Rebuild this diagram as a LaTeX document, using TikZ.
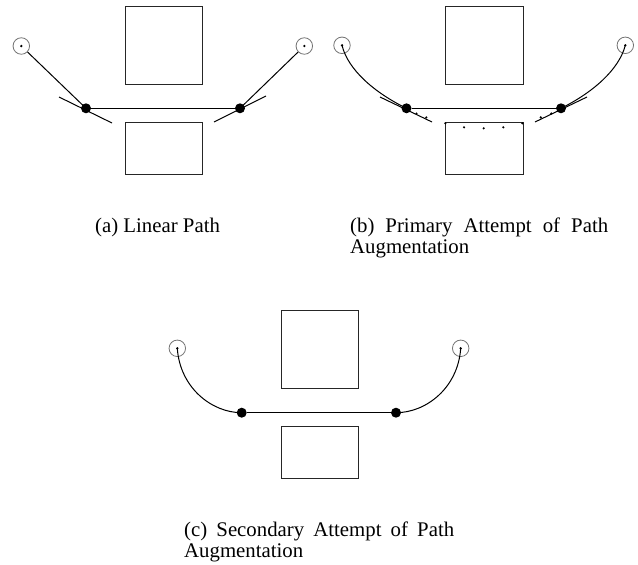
\documentclass[tikz,border=0pt]{standalone}
\usepackage{fontspec}
\setmainfont{Liberation Serif}
\begin{document}
\begin{tikzpicture}[x=1pt,y=-1pt,
  box/.style={draw=black!85, line width=0.9pt, inner sep=0, anchor=north west},
  endpt/.style={circle, draw=black!55, line width=0.8pt, minimum size=16.5pt, inner sep=0},
  junc/.style={circle, fill=black, minimum size=10pt, inner sep=0},
  pin/.style={circle, fill=black, minimum size=2.6pt, inner sep=0},
  sdot/.style={circle, fill=black, minimum size=2.4pt, inner sep=0},
  wire/.style={line width=1pt},
  captext/.style={font=\fontsize{20.8}{21.5}\selectfont, inner sep=0, anchor=base west, align=left}]
\useasboundingbox (0,0) rectangle (638,565);

% ---------- panel (a) ----------
\node[box, minimum width=77pt, minimum height=78pt] (aTop) at (125,6) {};
\node[box, minimum width=77pt, minimum height=52pt] (aBot) at (125,122) {};
\node[endpt] (aL) at (21.3,46) {};
\node[pin] (aLp) at (aL.center) {};
\node[endpt] (aR) at (304.3,46) {};
\node[pin] (aRp) at (aR.center) {};
\node[junc] (aJ1) at (86,108.3) {};
\node[junc] (aJ2) at (240,108.3) {};
\draw[wire] (aJ1) -- (aJ2);
\draw[wire] (aL) -- (aJ1.center);
\draw[wire] (aR) -- (aJ2.center);
\coordinate (aT1s) at (59,97);
\coordinate (aT1e) at (112,123);
\coordinate (aT2s) at (266,96);
\coordinate (aT2e) at (214,122);
\draw[wire] (aT1s) -- (aT1e);
\draw[wire] (aT2s) -- (aT2e);

% ---------- panel (b) ----------
\node[box, minimum width=78pt, minimum height=78pt] (bTop) at (445,6) {};
\node[box, minimum width=78pt, minimum height=52pt] (bBot) at (445,122) {};
\node[endpt] (bL) at (342,45.3) {};
\node[pin] (bLp) at (bL.center) {};
\node[endpt] (bR) at (625.3,45.3) {};
\node[pin] (bRp) at (bR.center) {};
\node[junc] (bJ1) at (406.5,108.3) {};
\node[junc] (bJ2) at (561,108.3) {};
\draw[wire] (bJ1) -- (bJ2);
\draw[wire] (bLp.center) .. controls (348,70) and (375,93) .. (bJ1.center);
\draw[wire] (bJ2.center) .. controls (592,93) and (619,70) .. (bRp.center);
\coordinate (bT1s) at (380,97);
\coordinate (bT1e) at (432,122);
\coordinate (bT2s) at (587,97);
\coordinate (bT2e) at (535,122);
\draw[wire] (bT1s) -- (bT1e);
\draw[wire] (bT2s) -- (bT2e);
\node[sdot] (bd1) at (416.5,113.5) {};
\node[sdot] (bd2) at (426.3,117.4) {};
\node[sdot] (bd3) at (445.3,123.3) {};
\node[sdot] (bd4) at (464,127.3) {};
\node[sdot] (bd5) at (483.7,128.3) {};
\node[sdot] (bd6) at (503.3,127.3) {};
\node[sdot] (bd7) at (522.3,123.3) {};
\node[sdot] (bd8) at (540.7,117.4) {};
\node[sdot] (bd9) at (551.3,113.5) {};

% ---------- panel (c) ----------
\node[box, minimum width=77pt, minimum height=78pt] (cTop) at (281,310) {};
\node[box, minimum width=77pt, minimum height=52pt] (cBot) at (281,426) {};
\node[endpt] (cL) at (177.3,348.3) {};
\node[pin] (cLp) at (cL.center) {};
\node[endpt] (cR) at (460.7,348.3) {};
\node[pin] (cRp) at (cR.center) {};
\node[junc] (cJ1) at (241.7,412.7) {};
\node[junc] (cJ2) at (396,412.7) {};
\draw[wire] (cJ1) -- (cJ2);
\draw[wire] (cLp.center) .. controls (180,388) and (212,412.7) .. (cJ1.center);
\draw[wire] (cJ2.center) .. controls (426,412.7) and (458,388) .. (cRp.center);

% ---------- captions (base = last line) ----------
\node[captext] (capA) at (95,232) {(a) Linear Path};
\node[captext] (capB) at (350,253.5) {\makebox[258pt][s]{(b) Primary Attempt of Path}\\Augmentation};
\node[captext] (capC) at (184,557.5) {\makebox[270pt][s]{(c) Secondary Attempt of Path}\\Augmentation};
\end{tikzpicture}
\end{document}
